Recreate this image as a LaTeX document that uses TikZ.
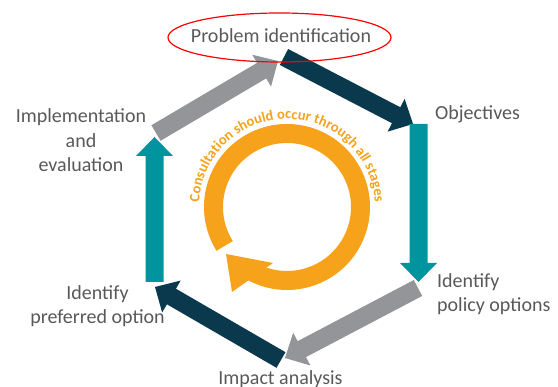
\documentclass[tikz,border=0pt]{standalone}
\usepackage{fontspec}
\setmainfont{Carlito}
\usetikzlibrary{calc,decorations.text}
\definecolor{cgray}{HTML}{939598}
\definecolor{cnavy}{HTML}{0A384C}
\definecolor{cteal}{HTML}{00949F}
\definecolor{corange}{HTML}{F7A21B}
\definecolor{ctext}{HTML}{595959}
\newcommand{\blockarrow}[3]{%
  \coordinate (hb) at ($(#3)!19pt!(#2)$);
  \fill[#1] ($(#2)!9pt!90:(#3)$) -- ($(hb)!9pt!-90:(#2)$) -- ($(hb)!18.5pt!-90:(#2)$) -- (#3)
    -- ($(hb)!18.5pt!90:(#2)$) -- ($(hb)!9pt!90:(#2)$) -- ($(#2)!9pt!-90:(#3)$) -- cycle;
}
\tikzset{lbl/.style={text=ctext, font=\fontsize{20}{24.5}\selectfont, inner sep=0pt}}
\begin{document}
\begin{tikzpicture}[x=1pt,y=1pt]
\useasboundingbox (0,0) rectangle (558,387);
% hexagon corner points
\coordinate (g1s) at (156,254);   \coordinate (g1e) at (278,326);
\coordinate (n1s) at (284,330);   \coordinate (n1e) at (413,263);
\coordinate (t1s) at (418.5,263); \coordinate (t1e) at (418.5,105);
\coordinate (g2s) at (418,99);    \coordinate (g2e) at (285,29);
\coordinate (n2s) at (281,27);    \coordinate (n2e) at (155,100);
\coordinate (t2s) at (154.5,105); \coordinate (t2e) at (154.5,250);
\blockarrow{cgray}{g1s}{g1e}
\blockarrow{cnavy}{n1s}{n1e}
\blockarrow{cteal}{t1s}{t1e}
\blockarrow{cgray}{g2s}{g2e}
\blockarrow{cnavy}{n2s}{n2e}
\blockarrow{cteal}{t2s}{t2e}
% central circular arrow
\coordinate (rc) at (287,180);
\draw[corange, line width=19pt] ($(rc)+(212:73.5)$) arc (212:-119:73.5);
\coordinate (oh1) at (226,133);
\coordinate (oh2) at (232,95);
\coordinate (oh3) at (273,124);
\fill[corange] (oh1) -- (oh2) -- (oh3) -- cycle;
\path[decorate, decoration={text along path, text align=center,
  text={|\fontsize{14.5}{14.5}\selectfont\bfseries\color{corange}|Consultation should occur through all stages}}]
  ($(rc)+(182:88)$) arc (182:-2:88);
% labels
\node[lbl, anchor=base] (p1) at (281,344) {Problem identification};
\draw[red, line width=1.2pt] (279.5,349.5) ellipse [x radius=111.5, y radius=24.5];
\node[lbl, anchor=base west] (p2) at (435,267) {Objectives};
\node[lbl, anchor=base west, align=left] (p3) at (437,75) {Identify\\policy options};
\node[lbl, anchor=base] (p4) at (280.5,2) {Impact analysis};
\node[lbl, anchor=base, align=center] (p5) at (97.5,63) {Identify\\preferred option};
\node[lbl, anchor=base, align=center] (p6) at (81,215) {Implementation\\and\\evaluation};
\end{tikzpicture}
\end{document}
